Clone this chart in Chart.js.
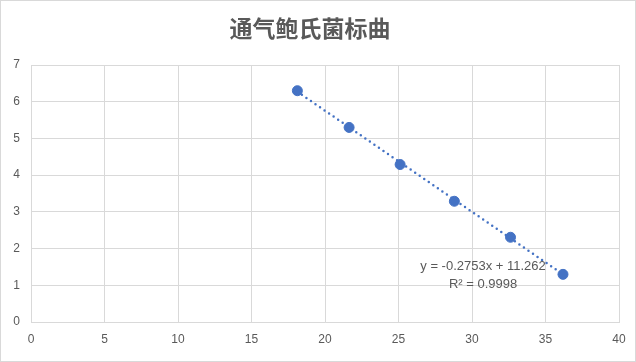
<!DOCTYPE html>
<html>
<head>
<meta charset="utf-8">
<script src="https://cdn.jsdelivr.net/npm/chart.js@4/dist/chart.umd.min.js"></script>
<style>
  html, body { margin: 0; padding: 0; background: #fff; }
  #wrap { width: 636px; height: 362px; }
</style>
</head>
<body>
<div id="wrap"><canvas id="grafico" width="636" height="362"></canvas></div>
<script>
// valores
const xValores = [18.12, 21.64, 25.11, 28.8, 32.62, 36.19];
const yValores = [6.3, 5.3, 4.29, 3.29, 2.31, 1.3];
const xTicks = [0, 5, 10, 15, 20, 25, 30, 35, 40];
const yTicks = [0, 1, 2, 3, 4, 5, 6, 7];
const titulo = '通气鲍氏菌标曲';
const inclinacao = -0.2753;
const intercepto = 11.262;
const equacao = ['y = -0.2753x + 11.262', 'R² = 0.9998'];

const xMin = Math.min(...xValores);
const xMax = Math.max(...xValores);
const linhaTendencia = [
    { x: xMin, y: inclinacao * xMin + intercepto },
    { x: xMax, y: inclinacao * xMax + intercepto }
];

const azul = '#4472C4';
const cinza = '#595959';
const grade = '#d9d9d9';

const moldura = {
    id: 'moldura',
    afterDraw(chart) {
        const ctx = chart.ctx;
        ctx.save();
        ctx.strokeStyle = grade;
        ctx.lineWidth = 1;
        ctx.strokeRect(0.5, 0.5, chart.width - 1, chart.height - 1);

        // texto da equação
        const sx = chart.scales.x, sy = chart.scales.y;
        const px = sx.getPixelForValue(30.75);
        const py = sy.getPixelForValue(1.52);
        ctx.fillStyle = cinza;
        ctx.font = '13px "Liberation Sans", Arial, sans-serif';
        ctx.textAlign = 'center';
        ctx.textBaseline = 'middle';
        ctx.fillText(equacao[0], px, py);
        ctx.fillText(equacao[1], px, py + 18);
        ctx.restore();
    }
};

const ctx = document.getElementById('grafico').getContext('2d');
new Chart(ctx, {
    type: 'scatter',
    data: {
        datasets: [
            {
                label: 'Tendência',
                type: 'line',
                data: linhaTendencia,
                borderColor: azul,
                borderWidth: 2.5,
                borderDash: [0, 5.5],
                borderCapStyle: 'round',
                pointRadius: 0,
                fill: false,
                order: 2
            },
            {
                label: 'Dados',
                data: xValores.map((x, i) => ({ x: x, y: yValores[i] })),
                backgroundColor: azul,
                borderColor: azul,
                pointRadius: 5,
                order: 1
            }
        ]
    },
    options: {
        responsive: false,
        animation: false,
        layout: { padding: { left: 1, right: 17, top: 0, bottom: 5.5 } },
        plugins: {
            legend: { display: false },
            tooltip: { enabled: false },
            title: {
                display: true,
                text: titulo,
                color: cinza,
                font: { family: '"Noto Sans CJK SC", sans-serif', size: 23, weight: 'bold' },
                padding: { top: 14.5, bottom: 22.9 }
            }
        },
        scales: {
            x: {
                type: 'linear',
                min: 0,
                max: 40,
                afterBuildTicks: (s) => { s.ticks = xTicks.map(v => ({ value: v })); },
                grid: { color: grade, drawTicks: false },
                border: { color: grade },
                ticks: {
                    color: cinza,
                    padding: 10,
                    font: { family: '"Liberation Sans", Arial, sans-serif', size: 12 }
                }
            },
            y: {
                min: 0,
                max: 7,
                afterBuildTicks: (s) => { s.ticks = yTicks.map(v => ({ value: v })); },
                afterFit: (s) => { s.width = 30; },
                grid: { color: grade, drawTicks: false },
                border: { color: grade },
                ticks: {
                    color: cinza,
                    padding: 11,
                    font: { family: '"Liberation Sans", Arial, sans-serif', size: 12 }
                }
            }
        }
    },
    plugins: [moldura]
});
</script>
</body>
</html>
